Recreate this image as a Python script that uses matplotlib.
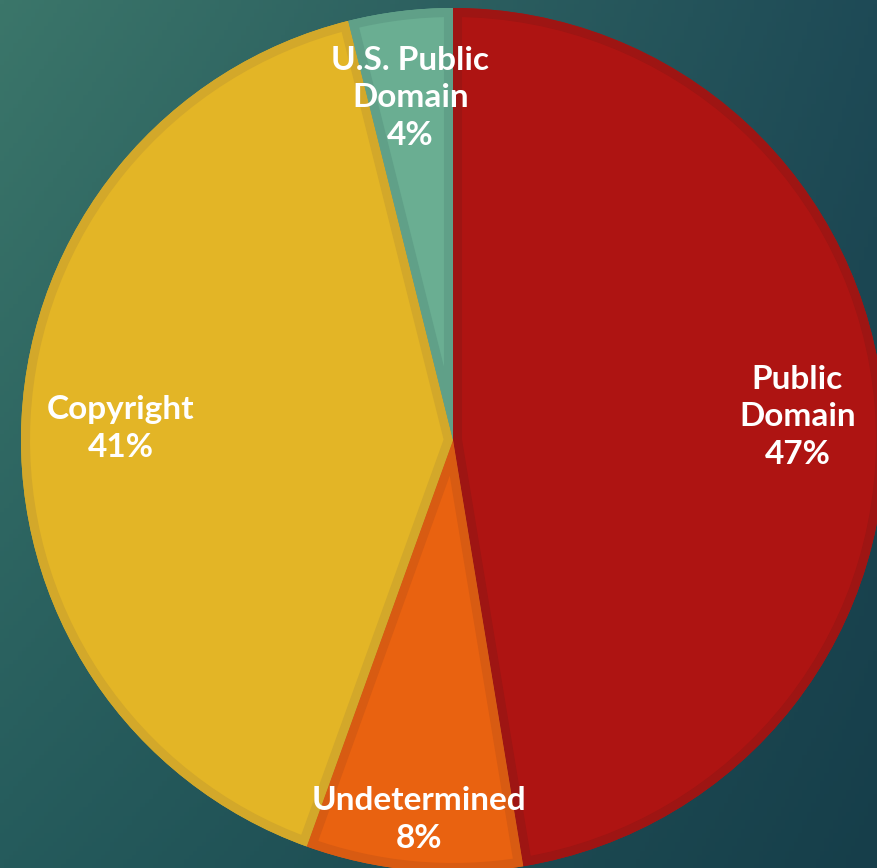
import numpy as np
import matplotlib.pyplot as plt
from matplotlib.patches import Wedge

# slice data, clockwise from 12 o'clock
categories = ["Public\nDomain", "Undetermined", "Copyright", "U.S. Public\nDomain"]
shares = [47.4, 8.1, 40.6, 3.9]
pct_labels = ["47%", "8%", "41%", "4%"]

fill_colors = ["#ae1412", "#e96210", "#e3b526", "#6aae92"]
edge_colors = ["#9e1513", "#d85b12", "#d3a82a", "#60a088"]
label_dist = [0.80, 0.87, 0.77, 0.81]

W, H = 877, 868
R = 432.0
cx, cy = 453.0, 440.0

fig = plt.figure(figsize=(W / 100, H / 100), dpi=100)
ax = fig.add_axes([0, 0, 1, 1])

# background gradient (corner colours)
tl = np.array([0x3b, 0x76, 0x6a]) / 255
tr = np.array([0x1e, 0x4a, 0x56]) / 255
bl = np.array([0x25, 0x5b, 0x5c]) / 255
br = np.array([0x16, 0x3e, 0x4a]) / 255
u = np.linspace(0, 1, 200)[None, :, None]
v = np.linspace(0, 1, 200)[:, None, None]
grad = (1 - v) * ((1 - u) * tl + u * tr) + v * ((1 - u) * bl + u * br)
ext = [-cx / R, (W - cx) / R, -(H - cy) / R, cy / R]
ax.imshow(grad, extent=ext, zorder=0, aspect="auto")

wedges, _ = ax.pie(shares, colors=fill_colors, startangle=90, counterclock=False,
                   radius=1.0, frame=True, wedgeprops=dict(linewidth=0))

# darker inner border on every slice
for w, ec in zip(wedges, edge_colors):
    w.set_zorder(2)
    rim = Wedge(w.center, w.r, w.theta1, w.theta2, fill=False,
                edgecolor=ec, linewidth=13, zorder=3)
    ax.add_patch(rim)
    rim.set_clip_path(w.get_path(), ax.transData)

ax.set_xlim(ext[0], ext[1])
ax.set_ylim(ext[2], ext[3])
ax.set_aspect("equal")
ax.axis("off")

for w, name, pct, d in zip(wedges, categories, pct_labels, label_dist):
    ang = np.deg2rad((w.theta1 + w.theta2) / 2)
    ax.text(d * np.cos(ang), d * np.sin(ang) - 0.012, name + "\n" + pct,
            ha="center", va="center", color="white", fontsize=24,
            fontweight="bold", family=["Lato", "DejaVu Sans"],
            linespacing=1.35, zorder=5)

fig.savefig("out.png", dpi=100)
